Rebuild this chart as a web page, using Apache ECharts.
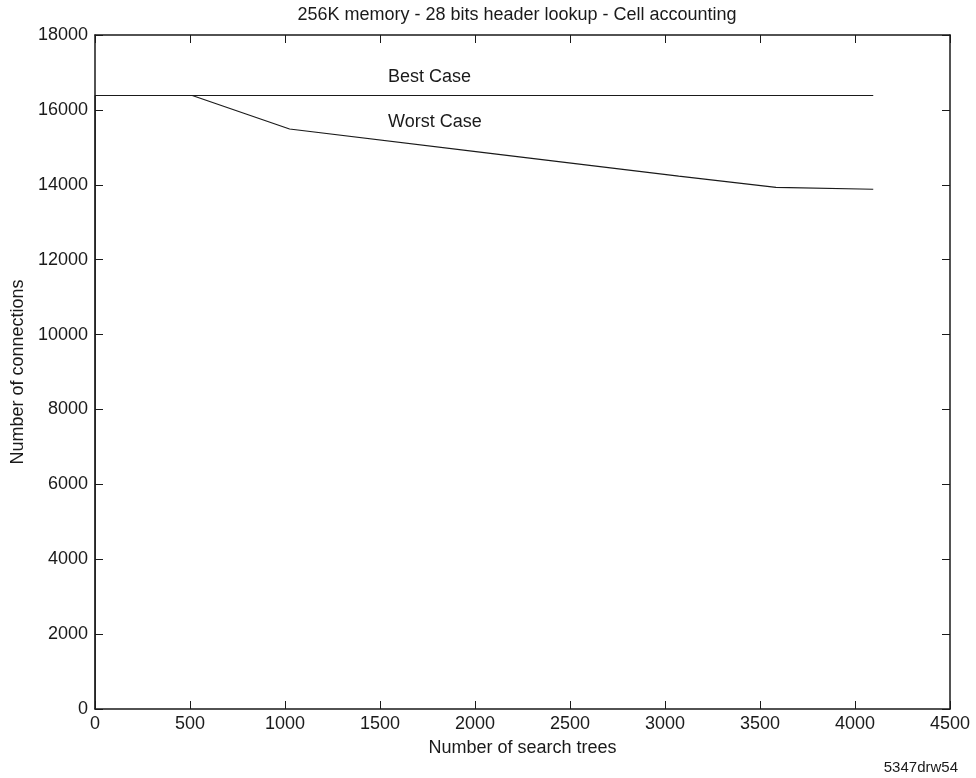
<!DOCTYPE html>
<html>
<head>
<meta charset="utf-8">
<script src="https://cdn.jsdelivr.net/npm/echarts@6/dist/echarts.min.js"></script>
<style>
  html, body { margin: 0; padding: 0; background: #fff; }
  #chart { width: 976px; height: 778px; }
</style>
</head>
<body>
<div id="chart"></div>
<script>
// data
var treeCounts = [1, 512, 1024, 2048, 3072, 3584, 4096];
var bestCase = [16384, 16384, 16384, 16384, 16384, 16384, 16384];
var worstTrees = [1, 1, 512, 1024, 2048, 3072, 3584, 4096];
var worstCase = [0, 16384, 16384, 15490, 14860, 14230, 13930, 13880];
var xTicks = [0, 500, 1000, 1500, 2000, 2500, 3000, 3500, 4000, 4500];
var yTicks = [0, 2000, 4000, 6000, 8000, 10000, 12000, 14000, 16000, 18000];

(function () {
    var chartDom = document.getElementById("chart");
    var myChart = echarts.init(chartDom);
    var font = "Liberation Sans, Arial, sans-serif";
    var ink = "#1a1a1a";

    function pairs(xs, ys) {
        return xs.map(function (x, i) { return [x, ys[i]]; });
    }
    function plain(v) { return String(v); }

    var axisLine = { show: true, onZero: false, lineStyle: { color: ink, width: 1.5 } };
    var axisTick = { show: true, inside: true, length: 8, lineStyle: { color: ink, width: 1 } };

    var option = {
        animation: false,
        backgroundColor: "#fff",
        title: {
            text: "256K memory - 28 bits header lookup - Cell accounting",
            left: 512,
            textAlign: "center",
            top: 1,
            textStyle: { fontFamily: font, fontSize: 18, fontWeight: "normal", color: ink }
        },
        grid: { left: 95, right: 26, top: 35, bottom: 69 },
        xAxis: [
            {
                type: "value",
                min: xTicks[0],
                max: xTicks[xTicks.length - 1],
                interval: 500,
                position: "bottom",
                name: "Number of search trees",
                nameLocation: "middle",
                nameGap: 30,
                nameTextStyle: { fontFamily: font, fontSize: 18, color: ink },
                axisLine: axisLine,
                axisTick: axisTick,
                splitLine: { show: false },
                axisLabel: { fontFamily: font, fontSize: 18, color: ink, margin: 6, formatter: plain }
            },
            {
                type: "value",
                min: xTicks[0],
                max: xTicks[xTicks.length - 1],
                interval: 500,
                position: "top",
                axisLine: axisLine,
                axisTick: axisTick,
                splitLine: { show: false },
                axisLabel: { show: false }
            }
        ],
        yAxis: [
            {
                type: "value",
                min: yTicks[0],
                max: yTicks[yTicks.length - 1],
                interval: 2000,
                position: "left",
                name: "Number of connections",
                nameLocation: "middle",
                nameGap: 68,
                nameRotate: 90,
                nameTextStyle: { fontFamily: font, fontSize: 18, color: ink },
                axisLine: axisLine,
                axisTick: axisTick,
                splitLine: { show: false },
                axisLabel: { fontFamily: font, fontSize: 18, color: ink, margin: 7, formatter: plain }
            },
            {
                type: "value",
                min: yTicks[0],
                max: yTicks[yTicks.length - 1],
                interval: 2000,
                position: "right",
                axisLine: axisLine,
                axisTick: axisTick,
                splitLine: { show: false },
                axisLabel: { show: false }
            }
        ],
        series: [
            {
                name: "Best Case",
                type: "line",
                data: pairs(treeCounts, bestCase),
                symbol: "none",
                lineStyle: { color: ink, width: 1.2 }
            },
            {
                name: "Worst Case",
                type: "line",
                data: pairs(worstTrees, worstCase),
                symbol: "none",
                lineStyle: { color: ink, width: 1.2 }
            }
        ],
        graphic: [
            {
                type: "text", left: 388, top: 68,
                style: { text: "Best Case", font: "18px " + font, fill: ink }
            },
            {
                type: "text", left: 388, top: 113,
                style: { text: "Worst Case", font: "18px " + font, fill: ink }
            },
            {
                type: "text", right: 18, top: 760,
                style: { text: "5347drw54", font: "15px " + font, fill: ink }
            }
        ]
    };

    myChart.setOption(option);
    window.addEventListener("resize", function () {
        myChart.resize();
    });
})();
</script>
</body>
</html>
